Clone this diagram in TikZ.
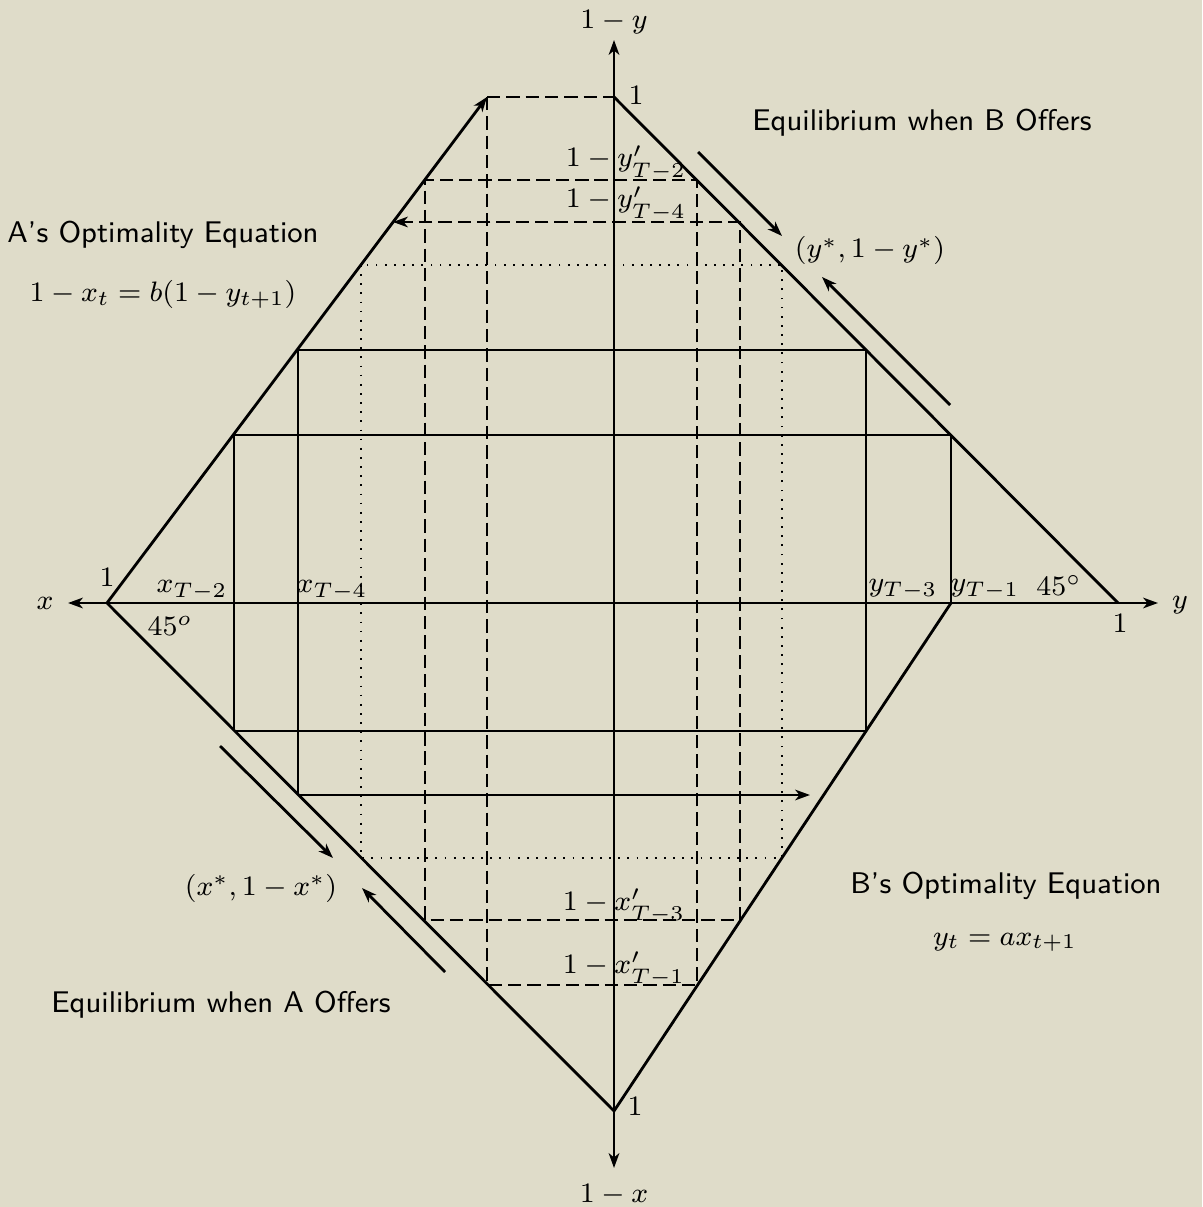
\documentclass[tikz,border=0pt]{standalone}
\usetikzlibrary{arrows.meta}
\definecolor{bg}{RGB}{223,220,201}
\begin{document}
\begin{tikzpicture}[x=0.01cm,y=-0.01cm,
  sline/.style={line width=0.8pt},
  dline/.style={line width=0.75pt,dash pattern=on 3.8pt off 1.7pt},
  dotline/.style={line width=0.7pt,dash pattern=on 0.5pt off 2.1pt},
  arr/.style={-{Stealth[length=4.2pt,width=3pt,inset=1.2pt]}},
  darr/.style={{Stealth[length=4.2pt,width=3pt,inset=1.2pt]}-{Stealth[length=4.2pt,width=3pt,inset=1.2pt]}},
  mlbl/.style={font=\fontsize{8.1}{10}\selectfont,inner sep=0pt,anchor=base},
  tlbl/.style={font=\sffamily\fontsize{8.5}{10}\selectfont,inner sep=0pt,anchor=base}]
\fill[bg] (0,0) rectangle (1202,1207);
\useasboundingbox (0,0) rectangle (1202,1207);
% key points
\coordinate (L) at (107,603);
\coordinate (T) at (614,97);
\coordinate (R) at (1118,603);
\coordinate (B) at (614,1111);
\coordinate (P) at (487,97);
\coordinate (Q) at (951,603);
\coordinate (xl) at (68,603);
\coordinate (yr) at (1158,603);
\coordinate (vt) at (614,40);
\coordinate (vb) at (614,1168);
% axes
\draw[sline,darr] (xl) -- (yr);
\draw[sline,darr] (vt) -- (vb);
% boundary lines
\draw[sline] (T) -- (R);
\draw[sline] (L) -- (B) -- (Q);
\draw[sline,arr] (L) -- (P);
% solid cobweb
\coordinate (a1) at (298,350); \coordinate (a2) at (866,350);
\coordinate (b1) at (234,435); \coordinate (b2) at (951,435);
\coordinate (c1) at (234,731); \coordinate (c2) at (866,731);
\coordinate (d1) at (298,795); \coordinate (d2) at (810,795);
\draw[sline] (a1) -- (a2);
\draw[sline] (b1) -- (b2);
\draw[sline] (c1) -- (c2);
\draw[sline,arr] (d1) -- (d2);
\draw[sline] (b1) -- (c1);
\draw[sline] (a1) -- (d1);
\draw[sline] (a2) -- (c2);
\draw[sline] (b2) -- (Q);
% dashed cobweb
\coordinate (e1) at (487,985); \coordinate (e2) at (697,985);
\coordinate (f1) at (697,180); \coordinate (f2) at (425,180);
\coordinate (g1) at (425,920); \coordinate (g2) at (740,920);
\coordinate (h1) at (740,222); \coordinate (h2) at (393,222);
\draw[dline] (P) -- (T);
\draw[dline,arr] (P) -- (e1) -- (e2) -- (f1) -- (f2) -- (g1) -- (g2) -- (h1) -- (h2);
% dotted equilibrium square
\coordinate (s1) at (361,265); \coordinate (s2) at (782,858);
\draw[dotline] (s1) rectangle (s2);
% parallel arrows
\coordinate (p1) at (698,152); \coordinate (p2) at (782,236);
\coordinate (p3) at (950,405); \coordinate (p4) at (822,277);
\coordinate (p5) at (220,746); \coordinate (p6) at (333,858);
\coordinate (p7) at (445,972); \coordinate (p8) at (362,888);
\draw[sline,arr] (p1) -- (p2);
\draw[sline,arr] (p3) -- (p4);
\draw[sline,arr] (p5) -- (p6);
\draw[sline,arr] (p7) -- (p8);
% axis labels
\node[mlbl] (ly) at (614,29) {$1-y$};
\node[mlbl] (lx) at (614,1202) {$1-x$};
\node[mlbl] (lxx) at (45,610) {$x$};
\node[mlbl] (lyy) at (1180,608) {$y$};
\node[mlbl] (oneT) at (636,105) {$1$};
\node[mlbl] (oneL) at (107,587) {$1$};
\node[mlbl] (oneR) at (1120,632) {$1$};
\node[mlbl] (oneB) at (635,1115) {$1$};
\node[mlbl] (degL) at (170,635) {$45^o$};
\node[mlbl] (degR) at (1059,595) {$45^\circ$};
\node[mlbl] (xT2) at (192,593) {$x_{T-2}$};
\node[mlbl] (xT4) at (332,593) {$x_{T-4}$};
\node[mlbl] (yT3) at (903,592) {$y_{T-3}$};
\node[mlbl] (yT1) at (985,592) {$y_{T-1}$};
\node[mlbl] (yp2) at (626,167) {$1-y'_{T-2}$};
\node[mlbl] (yp4) at (626,208) {$1-y'_{T-4}$};
\node[mlbl] (xp3) at (624,910) {$1-x'_{T-3}$};
\node[mlbl] (xp1) at (624,973) {$1-x'_{T-1}$};
\node[mlbl] (eqB) at (870,258) {$(y^{*},1-y^{*})$};
\node[mlbl] (eqA) at (261,895) {$(x^{*},1-x^{*})$};
% text
\node[tlbl] (tB) at (922,131) {Equilibrium when B Offers};
\node[tlbl] (tA) at (221,1012) {Equilibrium when A Offers};
\node[tlbl] (oA) at (163,243) {A's Optimality Equation};
\node[mlbl] (oAe) at (163,302) {$1-x_t=b(1-y_{t+1})$};
\node[tlbl] (oB) at (1006,893) {B's Optimality Equation};
\node[mlbl] (oBe) at (1005,945) {$y_t=ax_{t+1}$};
\end{tikzpicture}
\end{document}
